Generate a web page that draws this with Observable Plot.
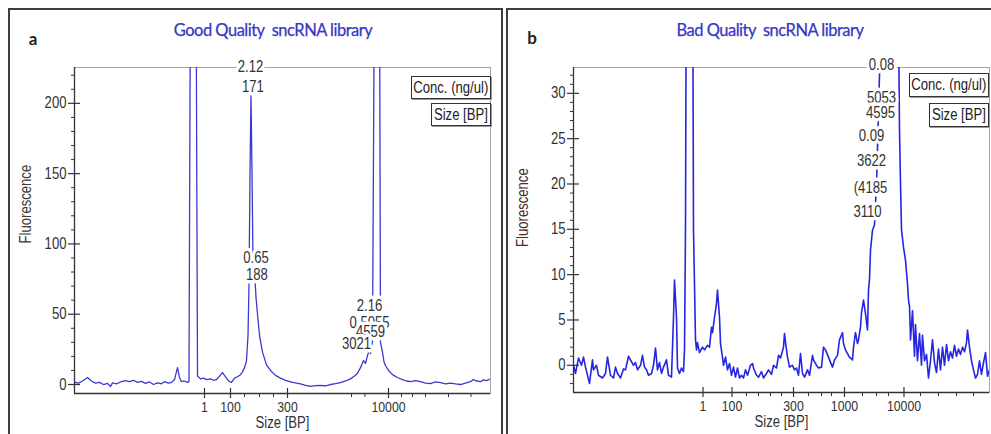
<!DOCTYPE html>
<html>
<head>
<meta charset="utf-8">
<script src="https://cdn.jsdelivr.net/npm/d3@7"></script>
<script src="https://cdn.jsdelivr.net/npm/@observablehq/plot@0.6"></script>
<style>
  html, body { margin: 0; padding: 0; background: #fff; }
  #root { position: relative; width: 991px; height: 434px; overflow: hidden; background: #fff; }
  .border { position: absolute; border: 2px solid #3e3e3e; box-sizing: border-box; }
  .title { position: absolute; font-family: Lato, "Noto Sans", sans-serif; font-size: 16.5px; color: #3636c6; white-space: pre; transform: translate(-50%, -50%); letter-spacing: -0.5px; -webkit-text-stroke: 0.25px #3636c6; }
  .letter { position: absolute; font-family: Lato, "Noto Sans", sans-serif; font-weight: 700; font-size: 17px; color: #222; transform: translate(-50%, -50%); }
  .box { position: absolute; border: 1.5px solid #333; box-shadow: 1px 1px 0 #999; background: #fff; box-sizing: border-box;
         font-family: "Liberation Sans", Arial, sans-serif;
         font-size: 16px; color: #222; display: flex; align-items: center; justify-content: center; white-space: nowrap; overflow: visible; }
  .box span { display: inline-block; transform: scaleX(0.82); }
  svg { position: absolute; top: 0; }
</style>
</head>
<body>
<div id="root">
  <div class="border" style="left:8px;top:8px;width:495px;height:440px;"></div>
  <div class="border" style="left:506px;top:8px;width:492px;height:440px;"></div>
  <div class="letter" style="left:33px;top:38px;">a</div>
  <div class="letter" style="left:532px;top:37px;">b</div>
  <div class="title" style="left:273px;top:30px;">Good Quality  sncRNA library</div>
  <div class="title" style="left:770px;top:30px;">Bad Quality  sncRNA library</div>
</div>
<script>
// ---------- data ----------
// migration time (s) and fluorescence, panel a (good quality)
const timeA = [20, 20.5, 21, 21.625, 22.125, 22.625, 23.125, 23.625, 24.125, 24.5, 24.75, 25.25, 25.75, 26.375, 26.875,
  27.375, 27.875, 28.375, 28.875, 29.375, 29.875, 30.375, 30.875, 31.25, 31.75, 32.125, 32.5, 32.875, 33.125, 33.375,
  33.75, 34.125, 34.31, 34.5, 34.84, 35.19, 35.375, 35.75, 36.125, 36.5, 37, 37.375, 37.75, 38.125, 38.5, 38.875,
  39.25, 39.625, 40, 40.375, 40.75, 41, 41.25, 41.5, 41.69, 41.81, 41.94, 42.06, 42.19, 42.31, 42.44, 42.56, 42.69,
  42.875, 43.125, 43.5, 44, 44.5, 45.125, 45.75, 46.375, 47.25, 48.25, 48.875, 49.5, 50.125, 50.75, 51.375, 52,
  52.625, 53.25, 53.875, 54.5, 55, 55.375, 55.75, 56.125, 56.375, 56.625, 56.81, 57, 57.25, 57.5, 57.81, 58.125,
  58.25, 58.5, 58.69, 58.875, 59.25, 59.75, 60.375, 61, 61.5, 62, 62.625, 63.25, 63.875, 64.5, 65.125, 65.75,
  66.375, 67, 67.625, 68.25, 68.875, 69.5, 69.875, 70.25, 70.75, 71.125, 71.5, 72];
const fluorA = [1.6, 1.0, 2.5, 5.0, 2.5, 1.0, 1.5, 0.0, 0.8, -1.4, 1.2, 0.5, 1.8, 2.8, 2.0,
  3.0, 1.5, 2.2, 0.8, 1.8, 0.0, 1.2, 0.5, 2.0, 1.0, 1.5, 3.5, 12, 5, 2,
  2.5, 1.5, 2, 300, 600, 300, 6, 4, 4.5, 3.5, 4, 3, 3.5, 6, 8.5, 5.5,
  2.5, 1.5, 4.5, 5.5, 7, 9, 12, 17, 35, 70, 150, 206, 150, 88, 92, 75, 62,
  50, 35, 23, 14, 10, 6.5, 4.5, 3, 1.5, 0.5, -0.7, -1.4, -0.8, -0.7, -1.0, 0,
  0.6, 1.4, 2.5, 4, 6, 8, 12, 17, 15, 20.5, 24, 22, 31, 300, 600, 300,
  30, 23, 16, 13.5, 10, 7, 5, 3.5, 2.5, 2, 2.8, 2, 1.0, 0.7, 1.8, 1.4,
  0.5, 1.0, 0.4, 0, 1.0, 2, 3.5, 2.5, 2, 3.3, 2.8, 4];

// panel b (bad quality)
const timeB = [20, 20.25, 20.625, 21, 21.25, 21.5, 22, 22.375, 22.5, 22.875, 23.125, 23.625, 24, 24.25, 24.625, 25,
  25.25, 25.5, 25.875, 26.25, 26.5, 26.875, 27.125, 27.5, 27.75, 28, 28.375, 28.625, 28.875, 29.125, 29.375, 29.75,
  30, 30.25, 30.5, 30.75, 31, 31.25, 31.625, 31.875, 32.25, 32.5, 32.625, 32.875, 33, 33.25, 33.5, 33.75, 33.875,
  34, 34.19, 34.5, 34.81, 35, 35.25, 35.375, 35.5, 35.75, 36.125, 36.375, 36.75, 37, 37.25, 37.375, 37.625, 37.875,
  38, 38.25, 38.375, 38.625, 38.75, 39, 39.25, 39.5, 39.75, 40, 40.25, 40.5, 40.75, 41, 41.25, 41.5, 41.75, 42.125,
  42.375, 42.5, 42.875, 43.125, 43.5, 43.75, 44.125, 44.375, 44.75, 45, 45.375, 45.625, 45.875, 46.25, 46.375,
  46.625, 46.75, 47, 47.375, 47.625, 47.875, 48.125, 48.375, 48.625, 48.875, 49.25, 49.5, 49.875, 50, 50.375,
  50.625, 51, 51.25, 51.5, 51.875, 52, 52.375, 52.625, 53, 53.25, 53.625, 53.75, 54, 54.25, 54.5, 54.875, 55,
  55.25, 55.5, 55.625, 55.875, 56, 56.25, 56.5, 56.75, 56.875, 57, 57.125, 57.375, 57.625, 57.875, 58.125, 58.375,
  59, 59.625, 60.25, 60.56, 60.75, 60.875, 61, 61.25, 61.5, 61.75, 61.875, 62, 62.125, 62.375, 62.625, 62.75, 63,
  63.25, 63.5, 63.625, 63.875, 64.125, 64.375, 64.625, 64.875, 65.125, 65.375, 65.625, 65.875, 66.125, 66.375,
  66.625, 66.875, 67.125, 67.375, 67.625, 67.875, 68.125, 68.375, 68.625, 68.875, 69.125, 69.25, 69.5, 69.75, 70,
  70.25, 70.5, 70.75, 71, 71.25, 71.5, 71.75, 72];
const fluorB = [0, -0.9, 0.8, 0, 0.9, -0.2, -2.0, 0.6, -0.5, 0, -1.1, -1.4, -0.9, 0.9, -1.1, -1.4,
  -0.2, -0.9, -1.4, -0.4, -0.5, 1.0, 0.6, 0, 0.3, -0.5, 0, 1.1, -0.2, -0.5, -1.1, -0.9,
  0, 1.9, -0.5, 0.3, -0.9, -0.2, 0.6, -1.1, -1.3, 5.3, 9.4, 5.3, -0.3, -0.9, -0.3, -0.7, 1.7,
  15, 70, 120, 70, 15, 2.8, 1.7, 2.5, 1.4, 2.0, 1.7, 2.2, 2.0, 4.2, 3.6, 5.3, 6.8,
  8.3, 5.3, 2.4, 0.9, 0, 0.9, -0.5, 0.2, -1.1, -0.2, -1.3, -0.3, -1.4, -1.1, -1.4, -0.5, -1.1, 0,
  0.2, -0.3, -1.1, -1.3, -0.7, -1.4, -0.9, -0.5, -1.0, 0, -0.3, 1.1, 0.8, 2.0, 3.5,
  1.7, 0.9, -0.2, 0, -0.5, -0.3, -1.1, 1.3, -0.9, -1.3, -0.5, -1.1, 1.1, 0.6, 0,
  -0.3, -0.2, 2.0, 1.7, 0.9, 0.6, -0.2, 0.6, 1.1, 2.8, 3.6, 2.4, 1.7, 1.3, 0.9, 0.6, 2.0,
  3.6, 2.4, 2.8, 4.2, 5.8, 7.2, 5.7, 3.9, 8.3, 9.5, 12.7, 14.9, 15.5, 20, 28, 36,
  40, 42, 45, 45, 26, 20, 15, 13, 11.6, 9, 7.2, 6.5, 2.8, 6.0, 1.0, 4.5, 0.5,
  3.5, 0, 3.3, 0.5, 1.2, -1.4, 0.5, 2.8, 0.3, -0.8, 1.8, -0.5, 2.0, 0,
  2.3, 0.5, 1.5, 0.8, 2.2, 1.0, 1.8, 1.2, 2.0, 1.5, 2.5, 3.9, 2.0, 0.5, -0.5,
  -1.4, -1.0, 0.5, -1.0, 0.3, 1.4, -1.2, -0.5];

// axes
const xTickTimeA = [36.25, 39.5, 46.625, 59.25];
const xTickLabelA = ["1", "100", "300", "10000"];
const xMinorTimeA = [41.25, 43.125, 44.875, 54.625, 56.3, 60.875, 62.25, 63.875, 66.75, 69.56];
const xTickTimeB = [36.19, 39.81, 47.5, 53.875, 61.31];
const xTickLabelB = ["1", "100", "300", "1000", "10000"];
const xMinorTimeB = [41.625, 43.125, 44.625, 46.0, 49.375, 51.0, 52.25, 56.125, 57.875, 59.375, 63.375, 65.625, 67.875, 70.0];
const yMajorA = [0, 50, 100, 150, 200];
const yMinorA = [10, 20, 30, 40, 60, 70, 80, 90, 110, 120, 130, 140, 160, 170, 180, 190, 210, 220];
const yMajorB = [0, 5, 10, 15, 20, 25, 30];
const yMinorB = [-2, -1, 1, 2, 3, 4, 6, 7, 8, 9, 11, 12, 13, 14, 16, 17, 18, 19, 21, 22, 23, 24, 26, 27, 28, 29, 31, 32];

// peak annotations (concentration / size)
const peakTextA = ["2.12", "171", "0.65", "188", "2.16", "0.5055", "4559", "3021"];
const peakTimeA = [42.0, 42.31, 42.69, 42.81, 56.875, 56.875, 57.0, 55.25];
const peakFluorA = [226.2, 212, 90.3, 78.2, 56.2, 44.1, 37.7, 29.2];
const peakTextB = ["0.08", "5053", "4595", "0.09", "3622", "(4185", "3110"];
const peakTimeB = [58.5, 58.5, 58.375, 57.25, 57.25, 57.125, 56.75];
const peakFluorB = [33.1, 29.5, 27.9, 25.3, 22.6, 19.6, 16.9];

// ---------- drawing ----------
const FONT = "'Liberation Sans', Arial, sans-serif";
const NARROW_SCALE = 0.82;

function panel(cfg) {
  const H = 434;
  const innerW = cfg.width - cfg.mL - cfg.mR;
  const innerH = H - cfg.mT - cfg.mB;
  const trace = cfg.time.map((t, i) => ({t, v: cfg.fluor[i]}));
  const xt = cfg.xT.map((t, i) => ({t, s: cfg.xL[i]}));
  const labs = cfg.labT.map((t, i) => ({t, s: cfg.labS[i], v: cfg.labV[i]}));
  const svg = Plot.plot({
    width: cfg.width, height: H,
    marginLeft: cfg.mL, marginRight: cfg.mR, marginTop: cfg.mT, marginBottom: cfg.mB,
    x: {domain: [20, 72], axis: null},
    y: {domain: cfg.yDomain, axis: null},
    style: {background: "none", overflow: "visible", fontFamily: FONT},
    marks: [
      Plot.frame({stroke: "#a5a5a5", strokeWidth: 1}),
      Plot.line(trace, {x: "t", y: "v", stroke: cfg.color, strokeWidth: cfg.lw, clip: true}),
      Plot.ruleX([20], {stroke: "#333", strokeWidth: 1.3}),
      Plot.ruleY([cfg.yDomain[0]], {stroke: "#333", strokeWidth: 1.3}),
      Plot.tickY(cfg.yMajor, {y: d => d, insetLeft: -6, insetRight: innerW - 6, stroke: "#333", strokeWidth: 1.2}),
      Plot.tickY(cfg.yMinor, {y: d => d, insetLeft: -3, insetRight: innerW, stroke: "#333"}),
      Plot.tickX(cfg.xT, {x: d => d, insetTop: innerH - 5, insetBottom: -5, stroke: "#333", strokeWidth: 1.2}),
      Plot.tickX(cfg.xMinor, {x: d => d, insetTop: innerH, insetBottom: -4, stroke: "#333"}),
      Plot.text(cfg.yMajor, {y: d => d, text: d => String(d), frameAnchor: "left", textAnchor: "end", dx: -8, fontSize: 16, fill: "#333"}),
      Plot.text(xt, {x: "t", text: "s", frameAnchor: "bottom", dy: 18.5, fontSize: 15, fill: "#333"}),
      Plot.text(["Size [BP]"], {text: d => d, frameAnchor: "bottom", dy: 34.5, fontSize: 16, fill: "#333"}),
      Plot.text(["Fluorescence"], {text: d => d, frameAnchor: "left", rotate: -90, dx: cfg.ylabDx, dy: cfg.ylabDy, fontSize: 16, fill: cfg.ylabColor}),
      Plot.text(labs, {x: "t", y: "v", text: "s", fontSize: 16, fill: "#333", stroke: "white", strokeWidth: 7, strokeLinejoin: "round"})
    ]
  });
  // emulate the narrow (condensed) instrument font by compressing text horizontally
  svg.querySelectorAll("text").forEach(el => {
    const tr = el.getAttribute("transform");
    if (tr) el.setAttribute("transform", tr + ` scale(${NARROW_SCALE},1)`);
  });
  svg.style.left = cfg.left + "px";
  return svg;
}

const root = document.getElementById("root");
const svgA = panel({
  left: 0, width: 500, mL: 74, mR: 10, mT: 67, mB: 41,
  time: timeA, fluor: fluorA, yDomain: [-6.4, 225.5], yMajor: yMajorA, yMinor: yMinorA,
  xT: xTickTimeA, xL: xTickLabelA, xMinor: xMinorTimeA,
  labT: peakTimeA, labS: peakTextA, labV: peakFluorA,
  color: "#3a3ad0", lw: 1.3, ylabColor: "#3a3a3a", ylabDx: -49, ylabDy: 13
});
const svgB = panel({
  left: 500, width: 491, mL: 73, mR: 2, mT: 67, mB: 42,
  time: timeB, fluor: fluorB, yDomain: [-3, 32.85], yMajor: yMajorB, yMinor: yMinorB,
  xT: xTickTimeB, xL: xTickLabelB, xMinor: xMinorTimeB,
  labT: peakTimeB, labS: peakTextB, labV: peakFluorB,
  color: "#2525e2", lw: 1.6, ylabColor: "#4a2c2c", ylabDx: -51, ylabDy: 17
});
root.appendChild(svgA);
root.appendChild(svgB);

// legend boxes (drawn above the plots)
function box(text, l, t, w, h) {
  const d = document.createElement("div");
  d.className = "box";
  d.style.left = l + "px"; d.style.top = t + "px";
  d.style.width = w + "px"; d.style.height = h + "px";
  const s = document.createElement("span");
  s.textContent = text;
  d.appendChild(s);
  root.appendChild(d);
}
box("Conc. (ng/ul)", 411, 76, 80, 23);
box("Size [BP]", 431, 103, 60, 23);
box("Conc. (ng/ul)", 909, 73, 80, 24);
box("Size [BP]", 929, 103, 60, 24);
</script>
</body>
</html>
